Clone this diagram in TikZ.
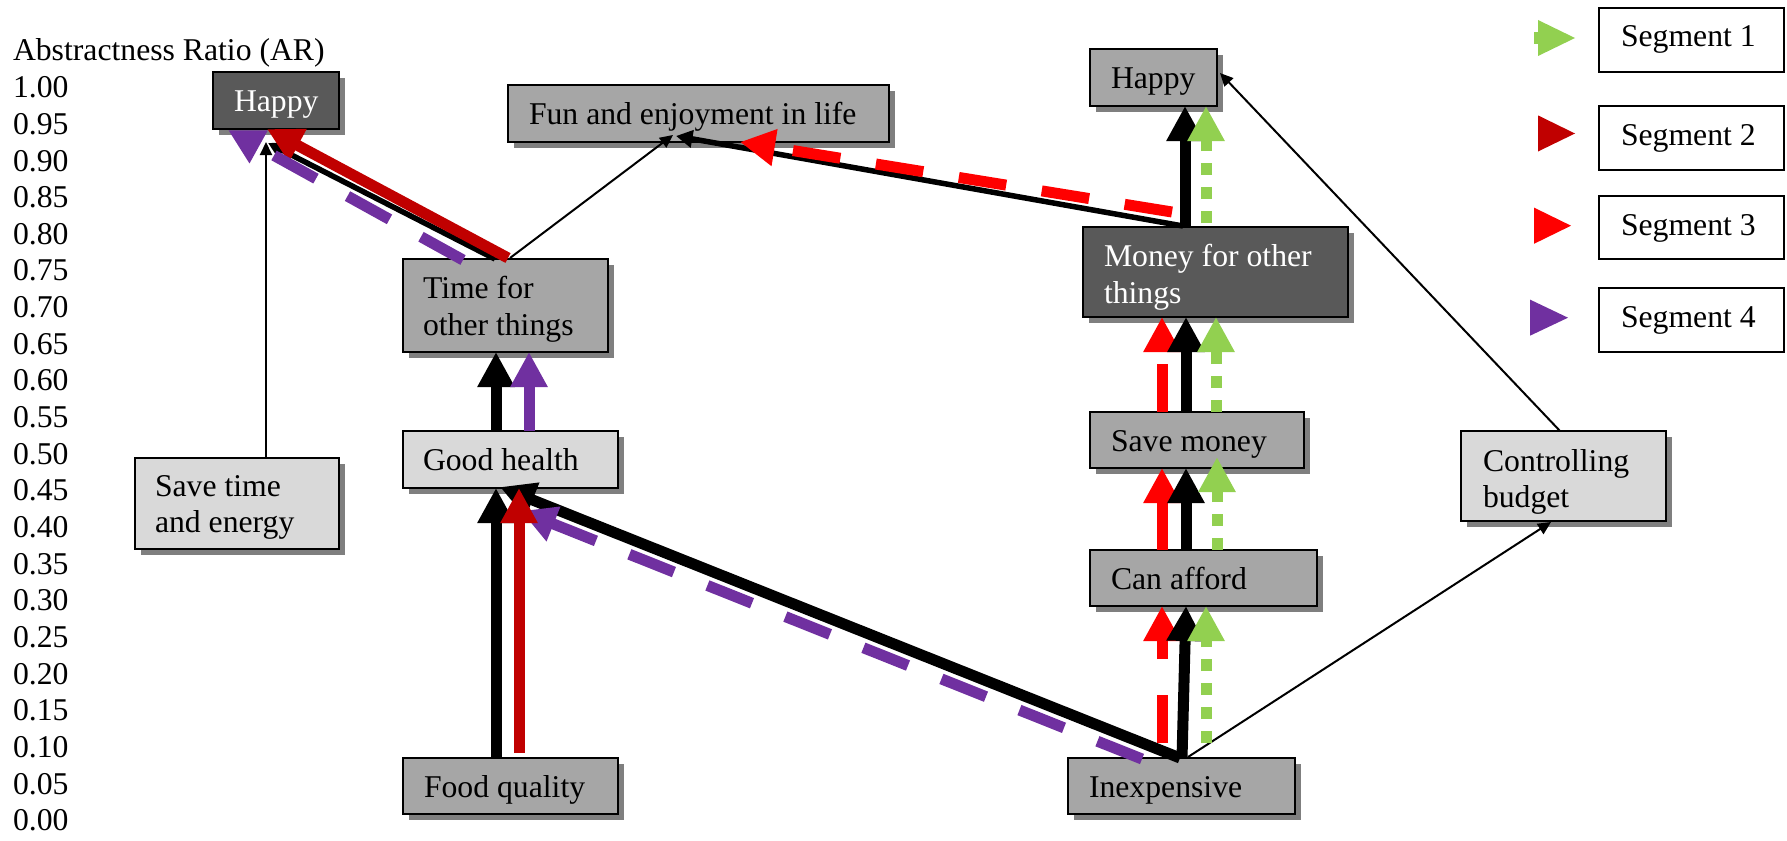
\documentclass[tikz,border=0pt]{standalone}
\usepackage{fontspec}
\setmainfont{Liberation Serif}
\usetikzlibrary{arrows.meta,shadows,fit,calc}

\definecolor{boxmid}{HTML}{A6A6A6}
\definecolor{boxlight}{HTML}{D9D9D9}
\definecolor{boxdark}{HTML}{595959}
\definecolor{shadowgray}{HTML}{7F7F7F}
\definecolor{segone}{HTML}{92D050}
\definecolor{segtwo}{HTML}{C00000}
\definecolor{segthree}{HTML}{FF0000}
\definecolor{segfour}{HTML}{7030A0}

\begin{document}
\begin{tikzpicture}[x=0.5pt,y=-0.5pt,
  every node/.style={inner sep=0pt, outer sep=0pt},
  conceptbox/.style={draw=black, line width=1pt,
    drop shadow={shadow xshift=3pt, shadow yshift=-3pt, fill=shadowgray, opacity=1}},
  midbox/.style={conceptbox, fill=boxmid},
  lightbox/.style={conceptbox, fill=boxlight},
  darkbox/.style={conceptbox, fill=boxdark},
  legendbox/.style={draw=black, line width=1pt, fill=white},
  lbl/.style={anchor=base west, font=\fontsize{15.85pt}{18.5pt}\selectfont, text=black},
  lblw/.style={lbl, text=white},
  thick arrow/.style={line width=5.5pt, -{Triangle[length=17.5pt,width=17.5pt]}},
  mid arrow/.style={line width=2.75pt, draw=black, -{Triangle[length=8.25pt,width=8.5pt]}},
  thin arrow/.style={line width=1pt, draw=black, -{Triangle[length=6.5pt,width=6pt]}},
  longdash/.style={dash pattern=on 24pt off 18pt},
  squaredot/.style={dash pattern=on 6pt off 6pt},
  allseg/.style={thick arrow, draw=black},
  segA/.style={thick arrow, draw=segone, squaredot},
  segB/.style={thick arrow, draw=segtwo},
  segC/.style={thick arrow, draw=segthree, longdash},
  segD/.style={thick arrow, draw=segfour, longdash}]

\useasboundingbox (0,0) rectangle (1787,840);

% vertical scale of abstractness ratios
\node[lbl] (artitle) at (13,61) {Abstractness Ratio (AR)};
\foreach \v [count=\i from 0] in {1.00,0.95,0.90,0.85,0.80,0.75,0.70,0.65,0.60,0.55,0.50,0.45,0.40,0.35,0.30,0.25,0.20,0.15,0.10,0.05,0.00}
  \node[lbl] (ar\i) at (13,97.7+36.65*\i) {\v};

% concept boxes
\node[darkbox,  fit={(213,72) (339,129)}]    (happyL) {};
\node[midbox,   fit={(508,85) (889,142)}]    (fun) {};
\node[midbox,   fit={(1090,49) (1217,106)}]  (happyR) {};
\node[darkbox,  fit={(1083,227) (1348,317)}] (money) {};
\node[midbox,   fit={(403,259) (608,352)}]   (time) {};
\node[lightbox, fit={(135,458) (339,549)}]   (savetime) {};
\node[lightbox, fit={(403,431) (618,488)}]   (goodhealth) {};
\node[midbox,   fit={(1090,412) (1304,468)}] (savemoney) {};
\node[midbox,   fit={(1090,550) (1317,606)}] (canafford) {};
\node[lightbox, fit={(1461,431) (1666,521)}] (controlling) {};
\node[midbox,   fit={(403,758) (618,814)}]   (food) {};
\node[midbox,   fit={(1068,758) (1295,814)}] (inexp) {};

% box texts
\node[lblw] (happyLt) at ($(happyL.north west)+(21,39.5)$) {Happy};
\node[lbl] (funt) at ($(fun.north west)+(21,40)$) {Fun and enjoyment in life};
\node[lbl] (happyRt) at ($(happyR.north west)+(21,39.5)$) {Happy};
\node[lblw] (moneyA) at ($(money.north west)+(21,39.5)$) {Money for other};
\node[lblw] (moneyB) at ($(moneyA.base west)+(0,37)$) {things};
\node[lbl] (timeA) at ($(time.north west)+(20,39.5)$) {Time for};
\node[lbl] (timeB) at ($(timeA.base west)+(0,37)$) {other things};
\node[lbl] (savetimeA) at ($(savetime.north west)+(20,38.5)$) {Save time};
\node[lbl] (savetimeB) at ($(savetimeA.base west)+(0,36)$) {and energy};
\node[lbl] (goodhealtht) at ($(goodhealth.north west)+(20,39.5)$) {Good health};
\node[lbl] (savemoneyt) at ($(savemoney.north west)+(21,39.5)$) {Save money};
\node[lbl] (canaffordt) at ($(canafford.north west)+(21,39.5)$) {Can afford};
\node[lbl] (controllingA) at ($(controlling.north west)+(22,40)$) {Controlling};
\node[lbl] (controllingB) at ($(controllingA.base west)+(0,36)$) {budget};
\node[lbl] (foodt) at ($(food.north west)+(21,39.5)$) {Food quality};
\node[lbl] (inexpt) at ($(inexp.north west)+(21,39.5)$) {Inexpensive};

% legend
\node[legendbox, fit={(1599,8) (1784,72)}]    (legA) {};
\node[legendbox, fit={(1599,106) (1784,170)}] (legB) {};
\node[legendbox, fit={(1599,196) (1784,259)}] (legC) {};
\node[legendbox, fit={(1599,288) (1784,352)}] (legD) {};
\node[lbl] (legAt) at ($(legA.north west)+(22,39)$) {Segment 1};
\node[lbl] (legBt) at ($(legB.north west)+(22,39)$) {Segment 2};
\node[lbl] (legCt) at ($(legC.north west)+(22,39)$) {Segment 3};
\node[lbl] (legDt) at ($(legD.north west)+(22,39)$) {Segment 4};
% legend markers: arrowheads in each segment colour
\fill[segone] (1534,32.5) rectangle (1539,44);
\fill[segone] (1538,20) -- (1575,38) -- (1538,56) -- cycle;
\fill[segtwo] (1538,115.4) -- (1575,133.5) -- (1538,151.5) -- cycle;
\fill[segthree] (1534,207.6) -- (1571,225.7) -- (1534,243.8) -- cycle;
\fill[segfour] (1530,299.6) -- (1568,317.7) -- (1530,335.7) -- cycle;

% thin links
\draw[thin arrow] ($(savetime.north west)+(131,0)$) -- ($(happyL.south west)+(53,13)$);
\draw[thin arrow] ($(time.north west)+(107,-1)$) -- ($(fun.south west)+(165,-7)$);
\draw[thin arrow] ($(inexp.north west)+(120,-1)$) -- ($(controlling.south west)+(90,1)$);
\draw[thin arrow] ($(controlling.north west)+(99,0)$) -- ($(happyR.north east)+(3,24)$);

% medium links
\draw[mid arrow] ($(time.north west)+(92,0)$) -- ($(happyL.south west)+(55,14)$);
\draw[mid arrow] ($(money.north west)+(100,-1)$) -- ($(fun.south west)+(168,-6)$);

% ladder from inexpensive to good health
\draw[allseg] ($(inexp.north west)+(112,0)$) -- ($(goodhealth.south west)+(97,-1)$);
\draw[segD] ($(inexp.north west)+(74,1)$) -- ($(goodhealth.south west)+(118,23)$);

% food quality -> good health -> time for other things -> happy
\draw[allseg] ($(food.north west)+(93,0)$) -- ($(goodhealth.south west)+(93,0)$);
\draw[segB] ($(food.north west)+(116,-5)$) -- ($(goodhealth.south west)+(116,0)$);
\draw[allseg] ($(goodhealth.north west)+(93,0)$) -- ($(time.south west)+(93,0)$);
\draw[segD] ($(goodhealth.north west)+(126,0)$) -- ($(time.south west)+(126,0)$);
\draw[segB] ($(time.north west)+(105,-1)$) -- ($(happyL.south west)+(54,0)$);
\draw[segD] ($(time.north west)+(60,1)$) -- ($(happyL.south west)+(15,1)$);

% inexpensive -> can afford -> save money -> money for other things
\draw[segC] ($(inexp.north west)+(94,-15)$) -- ($(canafford.south west)+(72,0)$);
\draw[allseg] ($(inexp.north west)+(114,0)$) -- ($(canafford.south west)+(96,0)$);
\draw[segA] ($(inexp.north west)+(138,-15)$) -- ($(canafford.south west)+(116,0)$);
\draw[segC] ($(canafford.north west)+(72,0)$) -- ($(savemoney.south west)+(72,0)$);
\draw[allseg] ($(canafford.north west)+(96,0)$) -- ($(savemoney.south west)+(96,0)$);
\draw[segA] ($(canafford.north west)+(127,0)$) -- ($(savemoney.south west)+(127,-11)$);
\draw[segC] ($(savemoney.north west)+(72,0)$) -- ($(money.south west)+(79,0)$);
\draw[allseg] ($(savemoney.north west)+(96,0)$) -- ($(money.south west)+(103,0)$);
\draw[segA] ($(savemoney.north west)+(126,0)$) -- ($(money.south west)+(133,0)$);

% money for other things -> happy / fun
\draw[allseg] ($(money.north west)+(102,0)$) -- ($(happyR.south west)+(95,0)$);
\draw[segA] ($(money.north west)+(123,-4)$) -- ($(happyR.south west)+(116,0)$);
\draw[segC] ($(money.north west)+(89,-15)$) -- ($(fun.south west)+(232,0)$);

\end{tikzpicture}
\end{document}
